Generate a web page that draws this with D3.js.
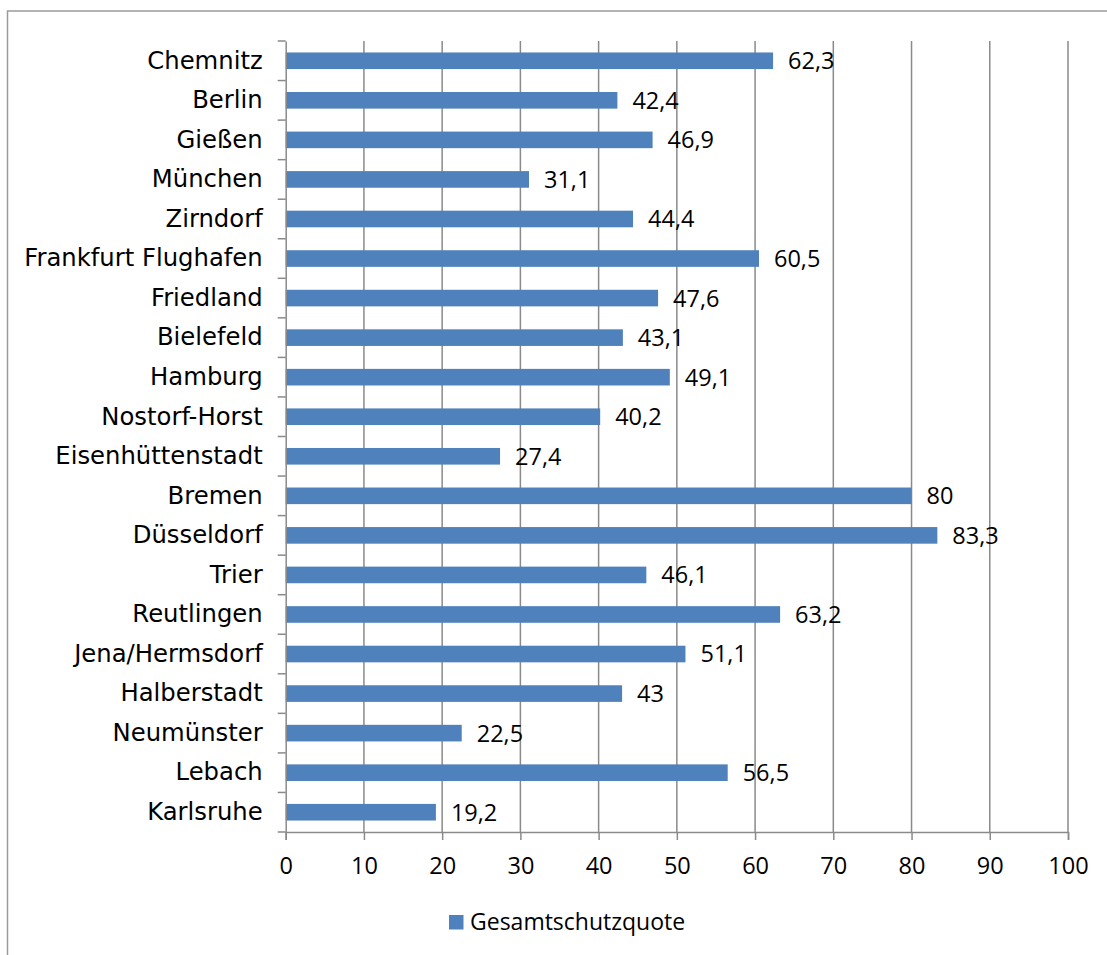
<!DOCTYPE html>
<html>
<head>
<meta charset="utf-8">
<script src="https://cdn.jsdelivr.net/npm/d3@7"></script>
<style>
  html, body { margin: 0; padding: 0; background: #fff; }
  svg { display: block; }
</style>
</head>
<body>
<svg id="chart" width="1107" height="955"></svg>
<script>
// Gesamtschutzquote per Außenstelle
const categories = [
  "Chemnitz", "Berlin", "Gießen", "München", "Zirndorf", "Frankfurt Flughafen",
  "Friedland", "Bielefeld", "Hamburg", "Nostorf-Horst", "Eisenhüttenstadt",
  "Bremen", "Düsseldorf", "Trier", "Reutlingen", "Jena/Hermsdorf",
  "Halberstadt", "Neumünster", "Lebach", "Karlsruhe"
];
const values = [
  62.3, 42.4, 46.9, 31.1, 44.4, 60.5,
  47.6, 43.1, 49.1, 40.2, 27.4,
  80, 83.3, 46.1, 63.2, 51.1,
  43, 22.5, 56.5, 19.2
];
const xTicks = [0, 10, 20, 30, 40, 50, 60, 70, 80, 90, 100];
const seriesName = "Gesamtschutzquote";

const svg = d3.select("#chart");
const catFont = "'DejaVu Sans', Verdana, sans-serif";
const numFont = "'Open Sans', 'Liberation Sans', sans-serif";
const gridColor = "#8a8a8a";
const barColor = "#4f81bd";

// outer chart frame
svg.append("rect")
  .attr("x", 7.5).attr("y", 11)
  .attr("width", 1120).attr("height", 970)
  .attr("fill", "none").attr("stroke", "#9a9a9a").attr("stroke-width", 1.5);

const plot = { left: 285.7, right: 1068, top: 41, bottom: 832 };

const x = d3.scaleLinear().domain([0, 100]).range([plot.left, plot.right]);
const y = d3.scaleBand().domain(categories).range([plot.top, plot.bottom]).paddingInner(0.58).paddingOuter(0.29);
const yBand = d3.scaleBand().domain(categories).range([plot.top, plot.bottom]);

// vertical gridlines
svg.append("g").selectAll("line")
  .data(xTicks.filter(t => t > 0))
  .join("line")
  .attr("x1", d => x(d)).attr("x2", d => x(d))
  .attr("y1", plot.top).attr("y2", plot.bottom)
  .attr("stroke", gridColor).attr("stroke-width", 1.5);

// bars
svg.append("g").selectAll("rect")
  .data(categories)
  .join("rect")
  .attr("x", x(0))
  .attr("y", (d) => y(d))
  .attr("width", (d, i) => x(values[i]) - x(0))
  .attr("height", y.bandwidth())
  .attr("fill", barColor);

// value labels
svg.append("g").selectAll("text")
  .data(categories)
  .join("text")
  .attr("x", (d, i) => x(values[i]) + 15)
  .attr("y", d => y(d) + y.bandwidth() / 2)
  .attr("dy", "0.36em")
  .attr("font-family", numFont)
  .attr("font-size", 23.5)
  .attr("fill", "#000")
  .text((d, i) => String(values[i]).replace(".", ","));

// x axis
const xAxis = svg.append("g")
  .attr("transform", `translate(0,${plot.bottom})`)
  .call(d3.axisBottom(x).tickValues(xTicks).tickSize(8).tickPadding(17).tickFormat(d => d));
xAxis.select(".domain").attr("stroke", gridColor).attr("stroke-width", 1.5);
xAxis.selectAll(".tick line").attr("stroke", gridColor).attr("stroke-width", 1.5);
xAxis.selectAll(".tick text")
  .attr("font-family", numFont).attr("font-size", 23.5).attr("fill", "#000");

// y axis: category labels, tick marks at category boundaries
const yAxis = svg.append("g")
  .attr("transform", `translate(${plot.left},0)`)
  .call(d3.axisLeft(yBand).tickSize(0).tickPadding(23));
yAxis.select(".domain").attr("stroke", gridColor).attr("stroke-width", 1.5);
yAxis.selectAll(".tick text")
  .attr("font-family", catFont).attr("font-size", 24.3).attr("fill", "#000");
const boundaries = categories.map(c => yBand(c)).concat([plot.bottom]);
yAxis.append("g").selectAll("line")
  .data(boundaries)
  .join("line")
  .attr("x1", -8).attr("x2", 0)
  .attr("y1", d => d).attr("y2", d => d)
  .attr("stroke", gridColor).attr("stroke-width", 1.5);

// legend
const legend = svg.append("g").attr("transform", "translate(449,915)");
legend.append("rect")
  .attr("width", 14.5).attr("height", 14.5)
  .attr("fill", barColor);
legend.append("text")
  .attr("x", 21).attr("y", 15)
  .attr("font-family", numFont).attr("font-size", 23)
  .attr("fill", "#000")
  .text(seriesName);
</script>
</body>
</html>
